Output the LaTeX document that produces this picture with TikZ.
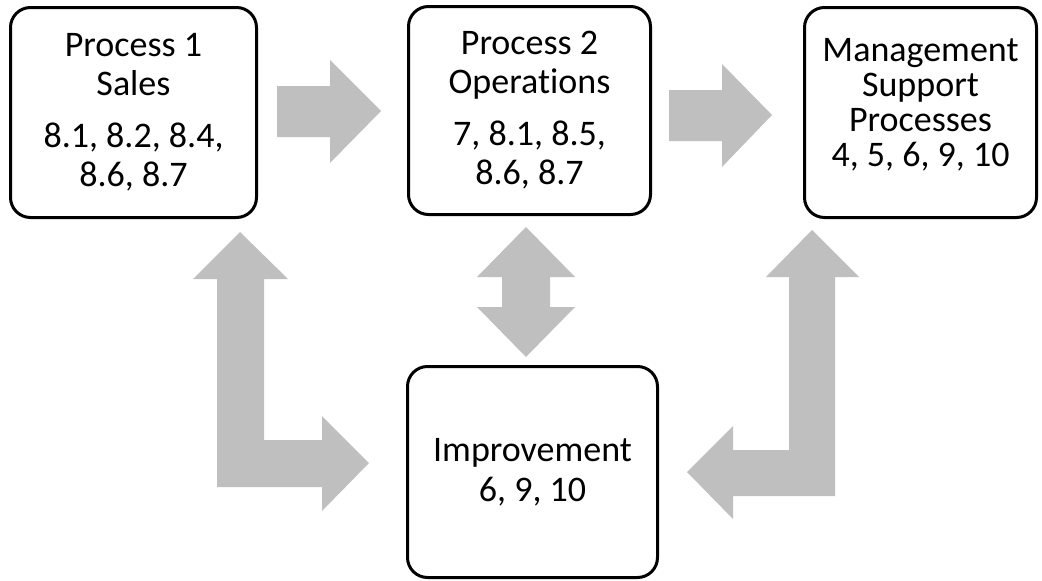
\documentclass[tikz,border=0pt]{standalone}
\usepackage{fontspec}
\setmainfont{Carlito}[Ligatures=NoCommon]
\definecolor{grisflecha}{HTML}{BFBFBF}
\tikzset{
  caja/.style={draw=black, line width=3pt, rounded corners=20pt, align=center,
    font=\fontsize{36}{39}\selectfont, inner sep=0pt},
  flecha/.style={fill=grisflecha}
}
\begin{document}
\begin{tikzpicture}[x=1pt,y=-1pt]
      % Marco
      \useasboundingbox (0,0) rectangle (1042,581);

      % Cajas
      \node[caja, minimum width=246pt, minimum height=210pt] (sales) at (133.5,112.5)
        {Process 1\\Sales\\[13pt]8.1, 8.2, 8.4,\\8.6, 8.7};
      \node[caja, minimum width=242pt, minimum height=208pt] (ops) at (529.5,110.5)
        {Process 2\\Operat\kern0pt ions\\[13pt]7, 8.1, 8.5,\\8.6, 8.7};
      \node[caja, minimum width=232pt, minimum height=210pt,
        font=\fontsize{36}{35}\selectfont] (mgmt) at (920.5,112.5)
        {Management\\Support\\Processes\\4, 5, 6, 9, 10\rule[-20pt]{0pt}{20pt}};
      \node[caja, minimum width=250pt, minimum height=211pt,
        font=\fontsize{36}{40}\selectfont] (impr) at (532.5,472)
        {Improvement\\6, 9, 10};

      % Flechas horizontales
      \fill[flecha] (277,86) -- (330,86) -- (330,60) -- (381,111)
        -- (330,163) -- (330,137) -- (277,137) -- cycle;
      \fill[flecha] (669,90) -- (722,90) -- (722,64) -- (772,115)
        -- (722,167) -- (722,141) -- (669,141) -- cycle;

      % Flecha doble
      \fill[flecha] (526,227) -- (575,277) -- (550,277) -- (550,307) -- (575,307)
        -- (526,357) -- (477,307) -- (502,307) -- (502,277) -- (477,277) -- cycle;

      % Flechas en L
      \fill[flecha] (240,232) -- (288,279) -- (264,279) -- (264,440) -- (322,440)
        -- (322,416) -- (369,463) -- (322,511) -- (322,487) -- (217,487)
        -- (217,279) -- (193,279) -- cycle;
      \fill[flecha] (812,230) -- (859,277) -- (835,277) -- (835,496) -- (733,496)
        -- (733,519) -- (687,472) -- (733,426) -- (733,450) -- (789,450)
        -- (789,277) -- (766,277) -- cycle;
    \end{tikzpicture}
\end{document}
